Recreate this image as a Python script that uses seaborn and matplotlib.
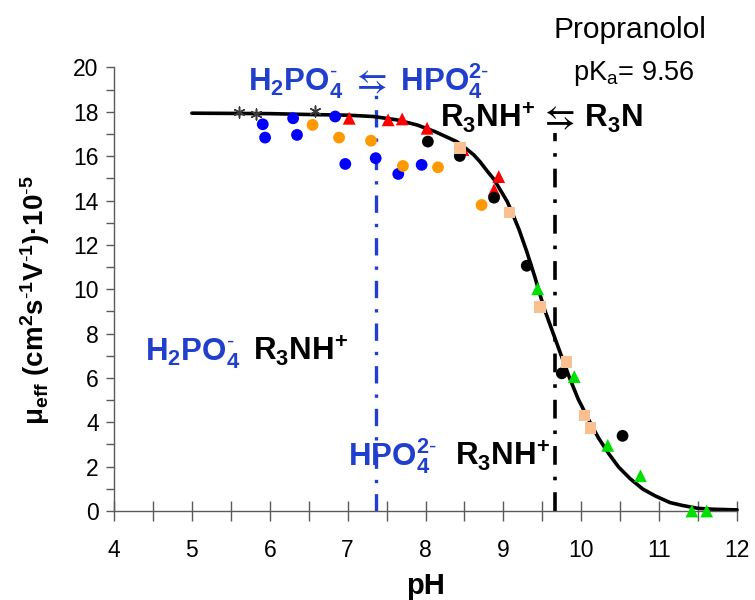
import matplotlib
matplotlib.use("Agg")
import matplotlib.pyplot as plt
from matplotlib.ticker import MultipleLocator
import pandas as pd
import seaborn as sns

# Fitted mobility curve for propranolol (pH, effective mobility x 1e-5)
curve_ph = [5.0, 6.0, 6.5, 7.0, 7.33, 7.63, 7.89, 8.12, 8.40, 8.50, 8.62, 8.70, 8.79,
            8.88, 8.96, 9.05, 9.13, 9.20, 9.30, 9.40, 9.52, 9.63, 9.74, 9.85, 9.96,
            10.09, 10.22, 10.35, 10.48, 10.63, 10.79, 10.95, 11.14, 11.30, 11.50, 11.70, 12.0]
curve_mu = [17.94, 17.92, 17.88, 17.85, 17.79, 17.64, 17.41, 17.11, 16.66, 16.40, 16.06, 15.75, 15.34,
            14.95, 14.48, 13.95, 13.30, 12.70, 11.70, 10.60, 9.17, 8.10, 7.04, 6.00, 5.05,
            4.15, 3.30, 2.60, 1.98, 1.45, 0.99, 0.68, 0.38, 0.25, 0.12, 0.08, 0.05]

# Measured mobilities, one set per buffer series
star_ph = [5.61, 5.82, 6.58]
star_mu = [18.00, 17.92, 18.05]

blue_ph = [5.91, 5.94, 6.30, 6.35, 6.84, 6.97, 7.36, 7.65, 7.95]
blue_mu = [17.44, 16.84, 17.71, 16.96, 17.79, 15.65, 15.91, 15.20, 15.61]

orange_ph = [6.55, 6.89, 7.30, 7.71, 8.16, 8.72]
orange_mu = [17.41, 16.84, 16.70, 15.56, 15.50, 13.80]

red_ph = [7.02, 7.52, 7.70, 8.02, 8.48, 8.88, 8.94]
red_mu = [17.71, 17.64, 17.68, 17.26, 16.30, 14.48, 15.08]

black_ph = [8.03, 8.44, 8.88, 9.30, 9.75, 10.53]
black_mu = [16.66, 16.01, 14.13, 11.06, 6.21, 3.39]

peach_ph = [8.44, 9.08, 9.47, 9.81, 10.04, 10.12]
peach_mu = [16.36, 13.46, 9.21, 6.71, 4.31, 3.74]

green_ph = [9.44, 9.91, 10.34, 10.76, 11.42, 11.61]
green_mu = [10.02, 6.06, 2.96, 1.59, 0.0, 0.0]

# Reference pH lines: phosphate pKa and drug pKa, with their top ends
phosphate_line_ph = 7.37
phosphate_line_top = 18.9
amine_line_ph = 9.665
amine_line_top = 17.05

x_ticks = [4, 5, 6, 7, 8, 9, 10, 11, 12]
y_ticks = [0, 2, 4, 6, 8, 10, 12, 14, 16, 18, 20]

BLUE_TXT = "#1F3FCC"
AXIS_GRAY = "#5A5A5A"

sns.set_theme(style="white")
plt.rcParams["font.family"] = ["Liberation Sans", "DejaVu Sans"]
plt.rcParams["mathtext.fontset"] = "custom"
plt.rcParams["mathtext.rm"] = "Liberation Sans"
plt.rcParams["mathtext.bf"] = "Liberation Sans:bold"
plt.rcParams["mathtext.it"] = "Liberation Sans:italic"
plt.rcParams["mathtext.fallback"] = "stixsans"

fig = plt.figure(figsize=(7.55, 6.0), dpi=100)
ax = fig.add_axes([0.151, 0.1483, 0.8252, 0.7392])

# dash-dot reference lines
ax.vlines(phosphate_line_ph, 0, phosphate_line_top, colors=BLUE_TXT, lw=2.4,
          linestyles=[(0, (5.2, 3.3, 1.0, 3.3))], zorder=1)
ax.vlines(amine_line_ph, 0, amine_line_top, colors="black", lw=2.6,
          linestyles=[(0, (5.2, 3.3, 1.0, 3.3))], zorder=1)

curve = pd.DataFrame({"pH": curve_ph, "mu": curve_mu})
sns.lineplot(data=curve, x="pH", y="mu", color="black", lw=2.6, sort=False,
             ax=ax, zorder=2, clip_on=False)

series = [
    (blue_ph, blue_mu, "o", "#0000FF", 72),
    (orange_ph, orange_mu, "o", "#FF9900", 72),
    (red_ph, red_mu, "^", "#FF0000", 85),
    (black_ph, black_mu, "o", "#000000", 72),
    (peach_ph, peach_mu, "s", "#FAC08F", 68),
    (green_ph, green_mu, "^", "#00E000", 85),
]
for xs, ys, mk, col, sz in series:
    sns.scatterplot(x=xs, y=ys, marker=mk, color=col, s=sz, linewidth=0,
                    edgecolor="none", ax=ax, zorder=3, clip_on=False)
sns.scatterplot(x=star_ph, y=star_mu, marker=(6, 2, 0), color="#3A3A3A", s=60,
                linewidth=1.1, ax=ax, zorder=3, clip_on=False)

ax.set_xlim(4, 12)
ax.set_ylim(0, 20)
ax.set_xticks(x_ticks)
ax.set_yticks(y_ticks)
ax.xaxis.set_minor_locator(MultipleLocator(0.5))
ax.yaxis.set_minor_locator(MultipleLocator(1))

for side in ("top", "right"):
    ax.spines[side].set_visible(False)
for side in ("left", "bottom"):
    ax.spines[side].set_color(AXIS_GRAY)
    ax.spines[side].set_linewidth(1.0)

ax.tick_params(axis="x", which="both", bottom=True, direction="inout", length=14,
               width=1.0, color=AXIS_GRAY, labelsize=16.5, labelcolor="black", pad=13)
ax.tick_params(axis="y", which="both", left=True, direction="out", length=6,
               width=1.0, color=AXIS_GRAY, labelsize=16.5, labelcolor="black", pad=5)

ax.set_xlabel("pH", fontsize=21, fontweight="bold", color="black")
ax.xaxis.set_label_coords(0.5, -0.137)
ax.set_ylabel(r"$\mathbf{μ_{eff}}$ $\mathbf{(cm^{2}s^{\text{-}1}V^{\text{-}1})·10^{\text{-}5}}$",
              fontsize=20, color="black")
ax.yaxis.set_label_coords(-0.10, 0.475)

# annotations
ax.text(9.64, 21.32, "Propranolol", fontsize=21.5, color="black", ha="left",
        va="baseline", clip_on=False)
ax.text(9.90, 19.44, r"pK$_{\mathrm{a}}$= 9.56", fontsize=19.5, color="black",
        ha="left", va="baseline", clip_on=False)
ax.text(5.72, 18.96, r"$\mathbf{H_2PO_4^{\text{-}}\ \leftrightarrows\ HPO_4^{2\text{-}}}$",
        fontsize=22.5, color=BLUE_TXT, ha="left", va="baseline", clip_on=False)
ax.text(8.19, 17.30, r"$\mathbf{R_3NH^{+}\,\leftrightarrows\,R_3N}$",
        fontsize=22.5, color="black", ha="left", va="baseline")
ax.text(4.40, 6.78, r"$\mathbf{H_2PO_4^{\text{-}}}$", fontsize=22.5, color=BLUE_TXT,
        ha="left", va="baseline")
ax.text(5.79, 6.78, r"$\mathbf{R_3NH^{+}}$", fontsize=22.5, color="black",
        ha="left", va="baseline")
ax.text(7.006, 2.04, r"$\mathbf{HPO_4^{2\text{-}}}$", fontsize=22.5, color=BLUE_TXT,
        ha="left", va="baseline")
ax.text(8.38, 2.04, r"$\mathbf{R_3NH^{+}}$", fontsize=22.5, color="black",
        ha="left", va="baseline")

fig.savefig("out.png", dpi=100, facecolor="white")
